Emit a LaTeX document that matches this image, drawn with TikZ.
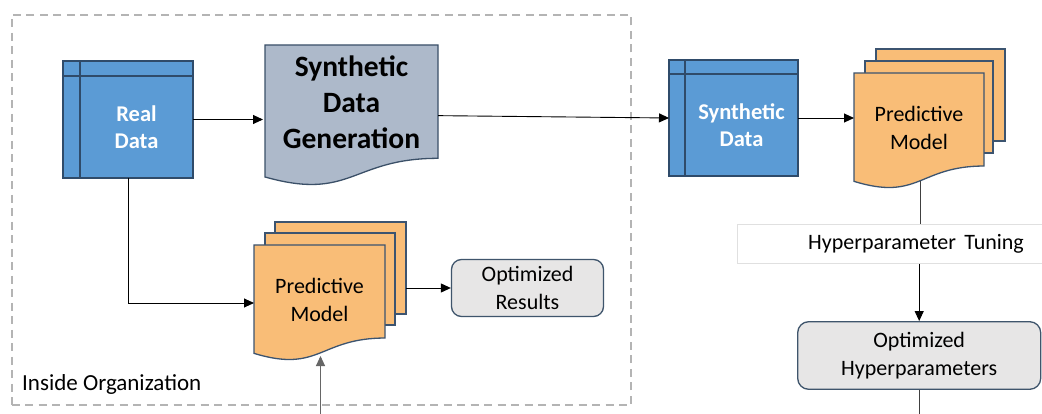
\documentclass[tikz,border=0pt]{standalone}
\usepackage{fontspec}
\setmainfont{Carlito}
\usetikzlibrary{arrows.meta,calc}

\definecolor{tblue}{HTML}{5B9BD5}
\definecolor{tedge}{HTML}{2F4B6A}
\definecolor{sdgfill}{HTML}{ADB9CA}
\definecolor{sdgedge}{HTML}{3B5068}
\definecolor{pmfill}{HTML}{F9BD77}
\definecolor{pmedge}{HTML}{3C5470}
\definecolor{resfill}{HTML}{E7E6E6}
\definecolor{resedge}{HTML}{3F556C}
\definecolor{orgdash}{HTML}{B4B4B4}
\definecolor{tunedge}{HTML}{E0E0E0}

% document shape with a wavy bottom edge: x, top y, width, height, style
\newcommand\docoutline[5]{%
  \path[#5] (#1,#2) -- ({#1+#3},#2) -- ({#1+#3},{#2+0.802*#4})
    .. controls ({#1+0.5*#3},{#2+0.802*#4}) and ({#1+0.5*#3},{#2+1.107*#4})
    .. (#1,{#2+0.934*#4}) -- cycle;}

\tikzset{
  area/.style={inner sep=0pt, outer sep=0pt, anchor=north west},
  tbl/.style={area, draw=tedge, fill=tblue, line width=1.3pt},
  tbltext/.style={text=white, align=center, font=\bfseries\fontsize{22.5}{27}\selectfont},
  gentext/.style={align=center, font=\bfseries\fontsize{29.5}{36}\selectfont},
  pmpage/.style={fill=pmfill, draw=pmedge, line width=1.3pt},
  sdgpage/.style={fill=sdgfill, draw=sdgedge, line width=1.3pt},
  bodytext/.style={align=center, font=\fontsize{22}{27.5}\selectfont},
  result/.style={draw=resedge, fill=resfill, line width=1.3pt, rounded corners=10pt,
    align=center, inner sep=0pt, font=\fontsize{22}{27.5}\selectfont},
  orgbox/.style={area, draw=orgdash, line width=2pt, dash pattern=on 8pt off 5.5pt},
  tunebox/.style={draw=tunedge, line width=0.8pt, inner sep=0pt, font=\fontsize{22}{27}\selectfont},
  conn/.style={draw=black, line width=0.9pt, -{Triangle[length=10pt,width=9pt]}},
  plain/.style={draw=black!75, line width=0.9pt},
}

\begin{document}
\begin{tikzpicture}[x=1pt,y=-1pt]
\useasboundingbox (0,0) rectangle (1042,414);
\fill[white] (0,0) rectangle (1042,414);

% organisation boundary
\node[orgbox, minimum width=619.5pt, minimum height=390pt] (org) at (11.5,15) {};
\node[anchor=west, inner sep=0pt, font=\fontsize{23}{27}\selectfont] (orglabel) at (22,384) {Inside Organization};

% real data table
\node[tbl, minimum width=130pt, minimum height=117pt] (rd) at (63,61) {};
\draw[draw=tedge, line width=1.3pt] ([xshift=17pt]rd.north west) -- ([xshift=17pt]rd.south west);
\draw[draw=tedge, line width=1.3pt] ([yshift=-15pt]rd.north west) -- ([yshift=-15pt]rd.north east);
\node[tbltext] (rdt) at ([xshift=8.5pt,yshift=-7.5pt]rd.center) {Real\\Data};

% synthetic data generation document
\docoutline{265}{45}{173}{141.3}{sdgpage}
\node[area, minimum width=173pt, minimum height=141.3pt] (sdg) at (265,45) {};
\node[gentext] (sdgt) at ([yshift=13.5pt]sdg.center) {Synthetic\\Data\\Generation};

% predictive model stack inside the organisation
\path[pmpage] (275,222) rectangle ++(131,92);
\node[area, minimum width=131pt, minimum height=92pt] (pmlb) at (275,222) {};
\path[pmpage] (265,233) rectangle ++(130,92);
\docoutline{254}{245}{131}{116}{pmpage}
\node[area, minimum width=131pt, minimum height=116pt] (pml) at (254,245) {};
\node[bodytext] (pmlt) at ([yshift=3pt]pml.center) {Predictive\\Model};
\coordinate (pmlbot) at (320.5,356);

% optimized results
\node[result, minimum width=152pt, minimum height=57pt] (orr) at (527.5,288) {Optimized\\Results};

% synthetic data table
\node[tbl, minimum width=129pt, minimum height=116pt] (sd) at (669,60) {};
\draw[draw=tedge, line width=1.3pt] ([xshift=16pt]sd.north west) -- ([xshift=16pt]sd.south west);
\draw[draw=tedge, line width=1.3pt] ([yshift=-14pt]sd.north west) -- ([yshift=-14pt]sd.north east);
\node[tbltext] (sdt) at ([xshift=8pt,yshift=-7.5pt]sd.center) {Synthetic\\Data};

% predictive model stack outside the organisation
\path[pmpage] (876,49) rectangle ++(129,92);
\path[pmpage] (865,61) rectangle ++(128,92);
\docoutline{854}{73}{130}{116}{pmpage}
\node[area, minimum width=130pt, minimum height=116pt] (pmr) at (854,73) {};
\node[bodytext] (pmrt) at ([yshift=3pt]pmr.center) {Predictive\\Model};
\coordinate (pmrbot) at (920,181);

% hyperparameter tuning band
\node[tunebox, minimum width=358pt, minimum height=39pt] (ht) at (916,244) {Hyperparameter\hspace{0.38em}Tuning};

% optimized hyperparameters
\node[result, rounded corners=11pt, minimum width=243pt, minimum height=67.6pt] (oh) at (919.2,355.5) {Optimized\\Hyperparameters};

% loose ends at the lower border
\coordinate (botL) at (320.5,414);
\coordinate (botR) at (919.2,414);

% connectors
\draw[conn, shorten >=2pt] (rd.east) -- (sdg.west |- rd.east);
\draw[conn] (sdg.east) -- (sd.west);
\draw[conn] (sd.east) -- (sd.east -| pmr.west);
\draw[conn] (rd.south) |- (pml.west);
\draw[conn] (orr.west -| pmlb.east) -- (orr.west);
\draw[conn, draw=black!60] (botL) -- (pmlbot);
\draw[plain] (pmrbot) -- (pmrbot |- ht.north);
\draw[conn] (oh.north |- ht.south) -- (oh.north);
\draw[plain] (oh.south) -- (botR);
\end{tikzpicture}
\end{document}
